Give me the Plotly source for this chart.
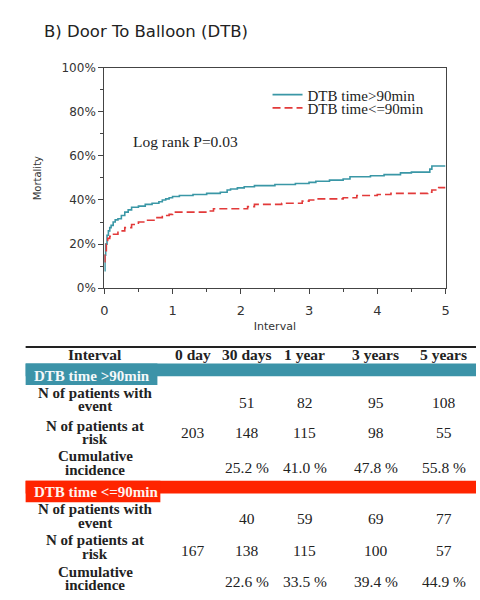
import plotly.graph_objects as go

# ---------------- data ----------------
times_gt = [0, 0.01, 0.02, 0.04, 0.06, 0.08, 0.1, 0.13, 0.16, 0.2, 0.25, 0.3, 0.35, 0.4, 0.5,
            0.6, 0.7, 0.8, 0.85, 0.9, 0.95, 1.0, 1.1, 1.3, 1.5, 1.7, 1.8, 1.85, 1.95, 2.05,
            2.2, 2.5, 2.8, 3.0, 3.1, 3.3, 3.5, 3.6, 3.9, 4.1, 4.34, 4.5, 4.77, 4.8, 5.0]
vals_gt = [8, 15, 20, 24, 26, 27.5, 28.5, 30, 31, 31.5, 33, 34.5, 35.5, 36.7, 37.2,
           38, 38.5, 39.2, 40, 40.5, 41, 41.6, 42, 42.5, 43, 43.5, 44.5, 45, 45.5, 46,
           46.5, 47, 47.5, 48, 48.5, 49, 49.5, 50.5, 51, 51.5, 52.3, 52.6, 54, 55.4, 55.4]

times_le = [0, 0.01, 0.03, 0.05, 0.08, 0.12, 0.2, 0.3, 0.4, 0.5, 0.6, 0.75, 0.85, 0.95, 1.0,
            1.3, 1.5, 1.6, 2.0, 2.1, 2.2, 2.6, 2.8, 2.9, 3.0, 3.1, 3.5, 3.7, 4.0, 4.2, 4.74,
            4.8, 4.9, 5.0]
vals_le = [12, 17, 20, 22.6, 23.5, 24.5, 26, 27.5, 28.9, 30, 30.8, 32, 33, 33.5, 34.5,
           34.5, 35, 36, 36, 37, 38, 38.5, 38.5, 39.5, 40, 40.5, 41, 42, 42.5, 43, 43.5,
           44.5, 45.6, 45.6]

name_gt = "DTB time>90min"
name_le = "DTB time<=90min"

x_ticks = [0, 1, 2, 3, 4, 5]
y_ticks = [0, 20, 40, 60, 80, 100]
y_tick_labels = ["0%", "20%", "40%", "60%", "80%", "100%"]

table_header = ["Interval", "0 day", "30 days", "1 year", "3 years", "5 years"]
row_labels = [("N of patients with", "event"), ("N of patients at", "risk"),
              ("Cumulative", "incidence")]
group_gt_label = "DTB time >90min"
group_le_label = "DTB time <=90min"
gt_events = ["", "51", "82", "95", "108"]
gt_risk = ["203", "148", "115", "98", "55"]
gt_cum = ["", "25.2 %", "41.0 %", "47.8 %", "55.8 %"]
le_events = ["", "40", "59", "69", "77"]
le_risk = ["167", "138", "115", "100", "57"]
le_cum = ["", "22.6 %", "33.5 %", "39.4 %", "44.9 %"]

# ---------------- figure ----------------
W, H = 480, 600
BLUE = "#3a97a6"
RED = "#e23a3a"
BAND_BLUE = "#3c93a8"
BAND_RED = "#ff2400"
SERIF = "Liberation Serif, Times New Roman, serif"
SANS = "DejaVu Sans, Arial, sans-serif"


def px(x):
    return x / W


def py(y):
    return 1 - y / H


fig = go.Figure()
fig.add_trace(go.Scatter(x=times_gt, y=vals_gt, mode="lines", name=name_gt, legend="legend",
                         line=dict(color=BLUE, width=1.6, shape="hv")))
fig.add_trace(go.Scatter(x=times_le, y=vals_le, mode="lines", name=name_le, legend="legend2",
                         line=dict(color=RED, width=1.6, shape="hv", dash="8px,4px")))

leg_common = dict(xanchor="left", yanchor="middle",
                  font=dict(family=SERIF, size=15, color="#222"),
                  bgcolor="rgba(0,0,0,0)", itemwidth=30, borderwidth=0)

fig.update_layout(
    width=W, height=H,
    margin=dict(l=0, r=0, t=0, b=0),
    paper_bgcolor="white", plot_bgcolor="white",
    showlegend=True,
    legend=dict(x=px(268), y=py(90), **leg_common),
    legend2=dict(x=px(268), y=py(103.5), **leg_common),
    xaxis=dict(domain=[px(102), px(449)], range=[0, 5], tickvals=x_ticks,
               ticks="outside", ticklen=5, tickcolor="#444", ticklabelstandoff=5,
               minor=dict(dtick=0.5, ticks="outside", ticklen=3, tickcolor="#444"),
               showline=True, linecolor="#444", linewidth=1.2, mirror=True,
               showgrid=False, zeroline=False,
               tickfont=dict(family=SANS, size=13, color="#333"),
               title=dict(text="Interval", font=dict(family=SANS, size=11, color="#333"),
                          standoff=5)),
    yaxis=dict(domain=[py(288), py(62)], range=[0, 100], tickvals=y_ticks,
               ticktext=y_tick_labels,
               ticks="outside", ticklen=5, tickcolor="#444",
               minor=dict(dtick=10, ticks="outside", ticklen=3, tickcolor="#444"),
               showline=True, linecolor="#444", linewidth=1.2, mirror=True,
               showgrid=False, zeroline=False,
               tickfont=dict(family=SANS, size=12, color="#333")),
)

ann = []
ann.append(dict(x=px(39), y=py(25), xref="paper", yref="paper", xanchor="left",
                yanchor="middle", text="B) Door To Balloon (DTB)", showarrow=False,
                font=dict(family=SANS, size=16.5, color="#222")))
ann.append(dict(x=px(35), y=py(175), xref="paper", yref="paper", xanchor="center",
                yanchor="middle", text="Mortality", textangle=-90, showarrow=False,
                font=dict(family=SANS, size=10, color="#333")))
ann.append(dict(x=px(129), y=py(137.5), xref="paper", yref="paper", xanchor="left",
                yanchor="middle", text="Log rank P=0.03", showarrow=False,
                font=dict(family=SERIF, size=15.5, color="#222")))

shapes = []
# table top rule
shapes.append(dict(type="line", xref="paper", yref="paper", x0=px(22), x1=1,
                   y0=py(348), y1=py(348), line=dict(color="#222", width=2)))
# bands
shapes.append(dict(type="rect", xref="paper", yref="paper", x0=px(22), x1=1,
                   y0=py(378), y1=py(365), fillcolor=BAND_BLUE, line=dict(width=0)))
shapes.append(dict(type="rect", xref="paper", yref="paper", x0=px(22), x1=px(156),
                   y0=py(387), y1=py(365), fillcolor=BAND_BLUE, line=dict(width=0)))
shapes.append(dict(type="rect", xref="paper", yref="paper", x0=px(22), x1=1,
                   y0=py(498), y1=py(485), fillcolor=BAND_RED, line=dict(width=0)))
shapes.append(dict(type="rect", xref="paper", yref="paper", x0=px(22), x1=px(159),
                   y0=py(507), y1=py(485), fillcolor=BAND_RED, line=dict(width=0)))

col_x = [93, 192, 247, 306, 378, 447]


def text(x, y, s, bold=False, color="#222", size=15, anchor="center"):
    ann.append(dict(x=px(x), y=py(y), xref="paper", yref="paper", xanchor=anchor,
                    yanchor="middle", text=("<b>%s</b>" % s) if bold else s,
                    showarrow=False, font=dict(family=SERIF, size=size, color=color)))


for cx, h in zip(col_x, table_header):
    text(cx, 355.5, h, bold=True, size=15.5)

text(28, 377.5, group_gt_label, bold=True, color="#f4f8fa", anchor="left")
text(28, 496.5, group_le_label, bold=True, color="#fff2ee", anchor="left")

groups = [
    ([(395, 408.5, 405), (429, 442.5, 436), (460, 474, 471)],
     [gt_events, gt_risk, gt_cum]),
    ([(513.5, 528, 524), (546, 560, 556), (578, 592, 588)],
     [le_events, le_risk, le_cum]),
]
for rows, vals in groups:
    for (l1, l2, vy), (lab1, lab2), rv in zip(rows, row_labels, vals):
        text(col_x[0], l1, lab1, bold=True)
        text(col_x[0], l2, lab2, bold=True)
        for cx, v in zip(col_x[1:], rv):
            if v:
                text(cx, vy, v, size=15.5)

fig.update_layout(annotations=ann, shapes=shapes)

post = ("document.body.style.margin='0';"
        "var gd=document.getElementById('{plot_id}');"
        "gd.style.position='absolute';gd.style.left='0px';gd.style.top='0px';")
fig.write_html("out.html", post_script=post, config={"displayModeBar": False})
